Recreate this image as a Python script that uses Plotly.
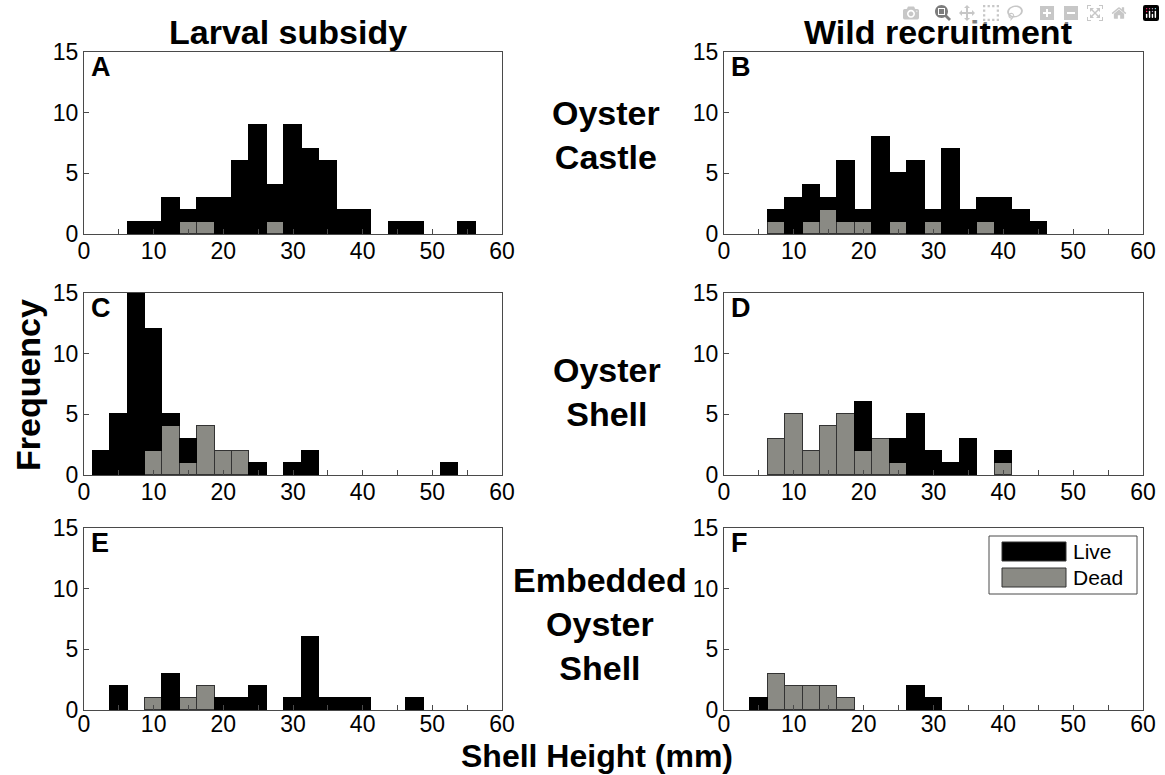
import plotly.graph_objects as go

# ---------------- data ----------------
bin_centers = [2.5, 5, 7.5, 10, 12.5, 15, 17.5, 20, 22.5, 25, 27.5, 30, 32.5,
               35, 37.5, 40, 42.5, 45, 47.5, 50, 52.5, 55, 57.5]

A_live = [0, 0, 1, 1, 3, 1, 2, 3, 6, 9, 3, 9, 7, 6, 2, 2, 0, 1, 1, 0, 0, 1, 0]
A_dead = [0, 0, 0, 0, 0, 1, 1, 0, 0, 0, 1, 0, 0, 0, 0, 0, 0, 0, 0, 0, 0, 0, 0]
B_live = [0, 0, 1, 3, 3, 1, 5, 1, 8, 4, 6, 1, 7, 2, 2, 3, 2, 1, 0, 0, 0, 0, 0]
B_dead = [0, 0, 1, 0, 1, 2, 1, 1, 0, 1, 0, 1, 0, 0, 1, 0, 0, 0, 0, 0, 0, 0, 0]
C_live = [2, 5, 15, 10, 1, 2, 0, 0, 0, 1, 0, 1, 2, 0, 0, 0, 0, 0, 0, 0, 1, 0, 0]
C_dead = [0, 0, 0, 2, 4, 1, 4, 2, 2, 0, 0, 0, 0, 0, 0, 0, 0, 0, 0, 0, 0, 0, 0]
D_live = [0, 0, 0, 0, 0, 0, 0, 4, 0, 2, 5, 2, 1, 3, 0, 1, 0, 0, 0, 0, 0, 0, 0]
D_dead = [0, 0, 3, 5, 2, 4, 5, 2, 3, 1, 0, 0, 0, 0, 0, 1, 0, 0, 0, 0, 0, 0, 0]
E_live = [0, 2, 0, 0, 3, 0, 0, 1, 1, 2, 0, 1, 6, 1, 1, 1, 0, 0, 1, 0, 0, 0, 0]
E_dead = [0, 0, 0, 1, 0, 1, 2, 0, 0, 0, 0, 0, 0, 0, 0, 0, 0, 0, 0, 0, 0, 0, 0]
F_live = [0, 1, 0, 0, 0, 0, 0, 0, 0, 0, 2, 1, 0, 0, 0, 0, 0, 0, 0, 0, 0, 0, 0]
F_dead = [0, 0, 3, 2, 2, 2, 1, 0, 0, 0, 0, 0, 0, 0, 0, 0, 0, 0, 0, 0, 0, 0, 0]

panel_letters = ["A", "B", "C", "D", "E", "F"]
col_titles = ["Larval subsidy", "Wild recruitment"]
row_titles = ["Oyster<br>Castle", "Oyster<br>Shell", "Embedded<br>Oyster<br>Shell"]
x_title = "Shell Height (mm)"
y_title = "Frequency"
series_names = ["Live", "Dead"]
x_tick_vals = list(range(0, 61, 5))
x_tick_text = [str(v) if v % 10 == 0 else "" for v in x_tick_vals]
y_tick_vals = [0, 5, 10, 15]

panels = [(A_live, A_dead), (B_live, B_dead), (C_live, C_dead),
          (D_live, D_dead), (E_live, E_dead), (F_live, F_dead)]

# ---------------- styling ----------------
W, H = 1165, 775
FONT = "Liberation Sans, Arial, sans-serif"
LIVE_C = "#000000"
DEAD_C = "#8a8a84"
EDGE_C = "#333333"
FRAME_C = "#4a4a4a"

def px(x):
    return x / W

def py(y):
    return 1 - y / H

def nz(vals):
    # empty bins are simply not drawn
    return [v if v else None for v in vals]

col_dom = [(px(84), px(502)), (px(724), px(1143))]
row_dom = [(py(234), py(52)), (py(475), py(293)), (py(710), py(528))]

fig = go.Figure()

for i, (live, dead) in enumerate(panels):
    r, c = divmod(i, 2)
    n = i + 1
    xa = "x" if n == 1 else f"x{n}"
    ya = "y" if n == 1 else f"y{n}"
    fig.add_trace(go.Bar(x=bin_centers, y=nz(dead), width=2.5, xaxis=xa, yaxis=ya,
                         marker=dict(color=DEAD_C, line=dict(color=EDGE_C, width=1)),
                         name=series_names[1], showlegend=False))
    fig.add_trace(go.Bar(x=bin_centers, y=nz(live), width=2.5, xaxis=xa, yaxis=ya,
                         marker=dict(color=LIVE_C, line=dict(color=LIVE_C, width=1)),
                         name=series_names[0], showlegend=False))
    axis_common = dict(showline=True, mirror=True, linecolor=FRAME_C, linewidth=1,
                       ticks="inside", ticklen=5, tickcolor=FRAME_C,
                       showgrid=False, zeroline=False, automargin=False,
                       tickfont=dict(family=FONT, size=23, color="black"))
    xkey = "xaxis" if n == 1 else f"xaxis{n}"
    ykey = "yaxis" if n == 1 else f"yaxis{n}"
    fig.update_layout(**{
        xkey: dict(domain=list(col_dom[c]), anchor=ya, range=[0, 60],
                   tickmode="array", tickvals=x_tick_vals, ticktext=x_tick_text,
                   ticklabelstandoff=-7 if r == 2 else -4, **axis_common),
        ykey: dict(domain=list(row_dom[r]), anchor=xa, range=[0, 15],
                   tickmode="array", tickvals=y_tick_vals, **axis_common),
    })
    fig.add_annotation(text=f"<b>{panel_letters[i]}</b>", xref=f"{xa} domain",
                       yref=f"{ya} domain", x=0.012, y=1.01, xanchor="left",
                       yanchor="top", showarrow=False,
                       font=dict(family=FONT, size=27, color="black"))

bold = dict(family=FONT, size=34, color="black")

def label(text, cx, cy, **kw):
    fig.add_annotation(text=text, x=px(cx), y=py(cy), xref="paper", yref="paper",
                       xanchor=kw.pop("xanchor", "center"), yanchor="middle",
                       showarrow=False, **kw)

label(f"<b>{col_titles[0]}</b>", 288, 32, font=bold)
label(f"<b>{col_titles[1]}</b>", 938, 32, font=bold)
for txt, (cx, cy) in zip(row_titles, [(606, 135), (607, 392), (600, 624)]):
    label(f"<b>{txt}</b>", cx, cy, font=bold)
label(f"<b>{y_title}</b>", 28, 385, font=bold, textangle=-90)
label(f"<b>{x_title}</b>", 597, 756, font=dict(family=FONT, size=32, color="black"))

# ---------------- legend (drawn in panel F) ----------------
fig.add_shape(type="rect", x0=px(989), x1=px(1137), y0=py(594), y1=py(536),
              xref="paper", yref="paper", line=dict(color=FRAME_C, width=1),
              fillcolor="white")
for nm, col, yc in [(series_names[0], LIVE_C, 551.5), (series_names[1], DEAD_C, 577.5)]:
    fig.add_shape(type="rect", x0=px(1002), x1=px(1066), y0=py(yc + 9.5),
                  y1=py(yc - 9.5), xref="paper", yref="paper",
                  line=dict(color=EDGE_C, width=1), fillcolor=col)
    label(nm, 1071, yc, xanchor="left", font=dict(family=FONT, size=21, color="black"))

fig.update_layout(width=W, height=H, autosize=False, barmode="stack", bargap=0,
                  margin=dict(l=0, r=0, t=0, b=0, autoexpand=False),
                  plot_bgcolor="white", paper_bgcolor="white", showlegend=False)

fig.write_html("out.html", post_script="document.body.style.margin='0';")
